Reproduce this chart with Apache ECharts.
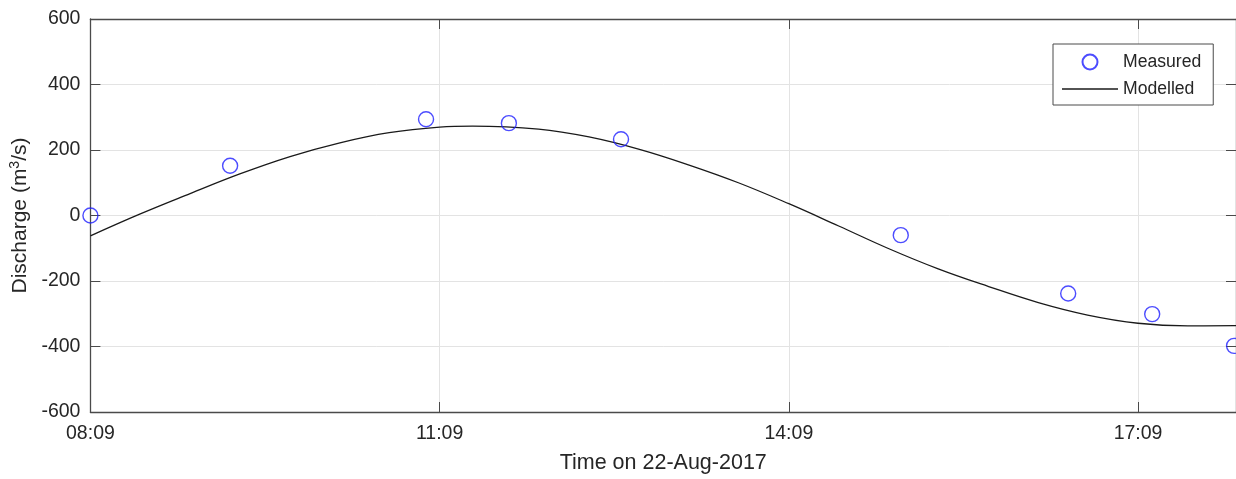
<!DOCTYPE html>
<html>
<head>
<meta charset="utf-8">
<title>Discharge on 22-Aug-2017</title>
<script src="https://cdn.jsdelivr.net/npm/echarts@6/dist/echarts.min.js"></script>
<style>
  html, body { margin: 0; padding: 0; background: #ffffff; }
  #chart { width: 1236px; height: 479px; }
</style>
</head>
<body>
<div id="chart"></div>
<script>
// Time is counted in minutes after 08:09.
const xTickLabels = ['08:09', '11:09', '14:09', '17:09'];
const yTicks = [-600, -400, -200, 0, 200, 400, 600];

// Measured discharge (m3/s)
const measuredMinutes = [0, 72, 173, 215.7, 273.5, 417.7, 504, 547.3, 589.5];
const measuredValues  = [0, 152, 294, 282, 233, -60, -238, -301, -398];

// Modelled discharge (m3/s)
const modelMinutes = [0, 25.7, 51.4, 77, 102.9, 128.6, 154, 180, 197, 231, 257, 283,
                      308.6, 334, 360, 385.7, 411, 437, 463, 488.6, 514, 540, 565.7, 590.5];
const modelValues  = [-62, 5, 67, 127, 180, 222, 253, 270, 273, 264, 240, 202,
                      154, 100, 36, -32, -100, -163, -217, -266, -304, -329, -337, -336];

const seriesNames = ['Measured', 'Modelled'];
const xName = 'Time on 22-Aug-2017';

const FONT = '"Liberation Sans", Arial, Helvetica, sans-serif';
const TEXT = '#262626';
const AXIS = '#4a4a4a';
const GRID = '#e3e3e3';

const xMin = 0, xMax = 590.5, xStep = 180;

const pair = (xs, ys) => xs.map((x, i) => [x, ys[i]]);

const chart = echarts.init(document.getElementById('chart'), null, { renderer: 'canvas' });

const tickStyle = { show: true, inside: true, length: 10, lineStyle: { color: AXIS, width: 1 } };
const lineStyle = { show: true, onZero: false, lineStyle: { color: AXIS, width: 1.3 } };

chart.setOption({
  animation: false,
  backgroundColor: '#ffffff',
  grid: { left: 90, top: 19, right: -2, bottom: 67, containLabel: false },
  legend: {
    orient: 'vertical',
    left: 1053,
    top: 44,
    padding: [9, 12, 7, 9],
    itemGap: 9,
    itemWidth: 56,
    itemHeight: 15,
    backgroundColor: '#ffffff',
    borderColor: '#4a4a4a',
    borderWidth: 1,
    data: [
      { name: seriesNames[0] },
      { name: seriesNames[1], icon: 'path://M0,0 H56 V1.3 H0 Z' }
    ],
    textStyle: { fontFamily: FONT, fontSize: 17.6, color: TEXT }
  },
  xAxis: [
    {
      type: 'value', position: 'bottom',
      min: xMin, max: xMax, interval: xStep,
      name: xName, nameLocation: 'middle', nameGap: 40,
      nameTextStyle: { fontFamily: FONT, fontSize: 21.5, color: TEXT },
      axisLine: lineStyle, axisTick: tickStyle,
      axisLabel: {
        fontFamily: FONT, fontSize: 19.5, color: TEXT, margin: 12,
        showMaxLabel: false,
        formatter: v => xTickLabels[Math.round(v / xStep)] || ''
      },
      splitLine: { show: true, lineStyle: { color: GRID, width: 1 } }
    },
    {
      type: 'value', position: 'top',
      min: xMin, max: xMax, interval: xStep,
      axisLine: lineStyle, axisTick: tickStyle,
      axisLabel: { show: false }, splitLine: { show: false }
    }
  ],
  yAxis: [
    {
      type: 'value', position: 'left',
      min: yTicks[0], max: yTicks[yTicks.length - 1], interval: 200,
      name: '{n|Discharge (m}{s|3}{n|/s)}',
      nameLocation: 'middle', nameGap: 53,
      nameTextStyle: {
        rich: {
          n: { fontFamily: FONT, fontSize: 21, color: TEXT },
          s: { fontFamily: FONT, fontSize: 14, color: TEXT, verticalAlign: 'top', padding: [0, 0, 10, 0] }
        }
      },
      axisLine: lineStyle, axisTick: tickStyle,
      axisLabel: { fontFamily: FONT, fontSize: 19.5, color: TEXT, margin: 10 },
      splitLine: { show: true, lineStyle: { color: GRID, width: 1 } }
    },
    {
      type: 'value', position: 'right',
      min: yTicks[0], max: yTicks[yTicks.length - 1], interval: 200,
      axisLine: lineStyle, axisTick: tickStyle,
      axisLabel: { show: false }, splitLine: { show: false }
    }
  ],
  series: [
    {
      name: seriesNames[0],
      type: 'scatter',
      xAxisIndex: 0, yAxisIndex: 0,
      data: pair(measuredMinutes, measuredValues),
      symbol: 'circle',
      symbolSize: 15,
      itemStyle: { color: 'rgba(255,255,255,0)', borderColor: '#1f1fff', borderWidth: 1.4 },
      z: 3
    },
    {
      name: seriesNames[1],
      type: 'line',
      xAxisIndex: 0, yAxisIndex: 0,
      data: pair(modelMinutes, modelValues),
      smooth: 0.4,
      showSymbol: false,
      lineStyle: { color: '#1a1a1a', width: 1.3 },
      itemStyle: { color: '#1a1a1a' },
      z: 2
    }
  ]
});
</script>
</body>
</html>
